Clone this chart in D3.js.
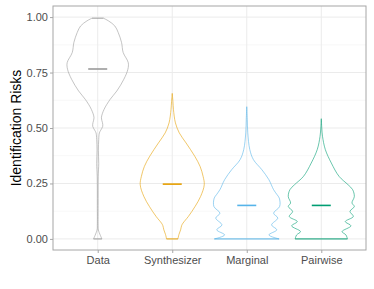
<!DOCTYPE html>
<html>
<head>
<meta charset="utf-8">
<script src="https://cdn.jsdelivr.net/npm/d3@7"></script>
<style>
  body { margin: 0; background: #fff; }
  text { font-family: "Liberation Sans", Arial, sans-serif; }
</style>
</head>
<body>
<div id="chart"></div>
<script>
// categories and colours
const categories = ["Data", "Synthesizer", "Marginal", "Pairwise"];
const colors = ["#9a9a9a", "#E69F00", "#56B4E9", "#009E73"];

// violin outlines: [risk, relative density]
const dataViolin = [[0.995,0.17],[0.983,0.32],[0.96,0.51],[0.931,0.61],[0.886,0.71],[0.84,0.76],[0.795,0.91],[0.765,0.9],[0.72,0.78],[0.667,0.57],[0.629,0.37],[0.584,0.19],[0.546,0.11],[0.525,0.14],[0.508,0.15],[0.49,0.09],[0.478,0.05],[0.448,0.03],[0.40,0.02],[0.34,0.03],[0.28,0.015],[0.15,0.012],[0.06,0.012],[0.04,0.02],[0.0,0.125]];
const synthViolin = [[0.656,0],[0.62,0.02],[0.584,0.036],[0.523,0.095],[0.478,0.21],[0.433,0.41],[0.373,0.67],[0.327,0.83],[0.282,0.92],[0.244,0.955],[0.191,0.845],[0.146,0.68],[0.101,0.48],[0.071,0.32],[0.06,0.28],[0.041,0.25],[0.02,0.2],[0.0,0.17]];
const marginalViolin = [[0.596,0],[0.54,0.015],[0.478,0.03],[0.403,0.09],[0.357,0.2],[0.312,0.45],[0.267,0.66],[0.222,0.8],[0.2,0.9],[0.184,0.97],[0.146,0.98],[0.116,0.8],[0.094,0.925],[0.063,0.74],[0.041,0.895],[0.018,0.66],[0.0,0.965]];
const pairwiseViolin = [[0.542,0],[0.50,0.015],[0.463,0.036],[0.403,0.12],[0.342,0.3],[0.282,0.53],[0.244,0.8],[0.222,0.935],[0.191,0.985],[0.162,0.915],[0.146,0.985],[0.124,0.855],[0.101,0.955],[0.078,0.715],[0.059,0.885],[0.033,0.62],[0.018,0.735],[0.0,0.78]];
const violins = [dataViolin, synthViolin, marginalViolin, pairwiseViolin];

// medians
const medians = [0.766, 0.247, 0.151, 0.151];

const yTicks = [0, 0.25, 0.5, 0.75, 1];
const yMinor = [0.125, 0.375, 0.625, 0.875];

var width = 374, height = 289;
var margin = { top: 6, right: 8, bottom: 39, left: 53 };
var pw = width - margin.left - margin.right;
var ph = height - margin.top - margin.bottom;

var svg = d3.select("#chart").append("svg")
    .attr("width", width)
    .attr("height", height);

var x = d3.scalePoint().domain(categories).range([0, pw]).padding(0.6);
var y = d3.scaleLinear().domain([-0.05, 1.05]).range([ph, 0]);
// density -> half width in px
var w = d3.scaleLinear().domain([0, 1]).range([0, x.step() * 0.45]);

var g = svg.append("g")
    .attr("transform", "translate(" + margin.left + "," + margin.top + ")");

// grid
g.selectAll(".minor").data(yMinor).enter().append("line")
    .attr("x1", 0).attr("x2", pw)
    .attr("y1", d => y(d)).attr("y2", d => y(d))
    .attr("stroke", "#f2f2f2").attr("stroke-width", 0.6);
g.selectAll(".major").data(yTicks).enter().append("line")
    .attr("x1", 0).attr("x2", pw)
    .attr("y1", d => y(d)).attr("y2", d => y(d))
    .attr("stroke", "#ebebeb").attr("stroke-width", 1);
g.selectAll(".vgrid").data(categories).enter().append("line")
    .attr("x1", d => x(d)).attr("x2", d => x(d))
    .attr("y1", 0).attr("y2", ph)
    .attr("stroke", "#ebebeb").attr("stroke-width", 1);

// violins
violins.forEach((v, i) => {
    var cx = x(categories[i]);
    var area = d3.area()
        .y(d => y(d[0]))
        .x0(d => cx - w(d[1]))
        .x1(d => cx + w(d[1]))
        .curve(d3.curveCatmullRom);
    g.append("path")
        .attr("d", area(v))
        .attr("fill", "none")
        .attr("stroke", colors[i])
        .attr("stroke-opacity", 0.65)
        .attr("stroke-width", 0.9);
    // close top and bottom
    [v[0], v[v.length - 1]].forEach(p => {
        g.append("line")
            .attr("x1", cx - w(p[1])).attr("x2", cx + w(p[1]))
            .attr("y1", y(p[0])).attr("y2", y(p[0]))
            .attr("stroke", colors[i])
            .attr("stroke-opacity", 0.65)
            .attr("stroke-width", 0.9);
    });
    g.append("line")
        .attr("x1", cx - 9.5).attr("x2", cx + 9.5)
        .attr("y1", y(medians[i])).attr("y2", y(medians[i]))
        .attr("stroke", colors[i])
        .attr("stroke-width", 1.6);
});

// panel border
g.append("rect")
    .attr("width", pw).attr("height", ph)
    .attr("fill", "none")
    .attr("stroke", "#a6a6a6").attr("stroke-width", 1);

// axes
var yAxis = g.append("g")
    .call(d3.axisLeft(y).tickValues(yTicks).tickFormat(d3.format(".2f")).tickSize(3).tickPadding(2));
var xAxis = g.append("g")
    .attr("transform", "translate(0," + ph + ")")
    .call(d3.axisBottom(x).tickSize(3).tickPadding(3));
[yAxis, xAxis].forEach(a => {
    a.select(".domain").remove();
    a.selectAll("line").attr("stroke", "#a6a6a6");
    a.selectAll("text").attr("fill", "#4d4d4d").style("font-size", "11px")
        .style("font-family", "'Liberation Sans', Arial, sans-serif");
});

svg.append("text")
    .attr("transform", "translate(21," + (margin.top + ph / 2) + ") rotate(-90)")
    .attr("text-anchor", "middle")
    .style("font-size", "14px")
    .attr("fill", "#000")
    .text("Identification Risks");
</script>
</body>
</html>
